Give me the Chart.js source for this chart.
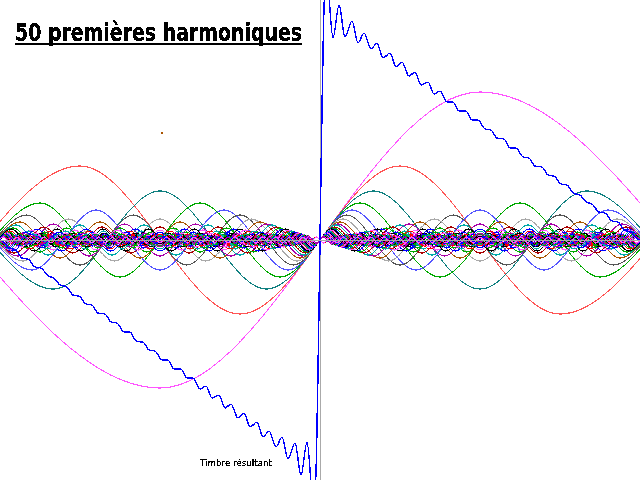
<!DOCTYPE html>
<html>
<head>
<meta charset="utf-8">
<title>50 premières harmoniques</title>
<script src="https://cdn.jsdelivr.net/npm/chart.js@4"></script>
<style>
    body { margin: 0; background: #fff; }
    canvas { display: block; filter: url(#crisp); }
</style>
</head>
<body>
<svg width="0" height="0" style="position:absolute">
    <filter id="crisp" x="0" y="0" width="100%" height="100%" color-interpolation-filters="sRGB">
        <feComponentTransfer><feFuncA type="discrete" tableValues="0 1 1"/></feComponentTransfer>
    </filter>
</svg>
<canvas id="chart" width="640" height="480"></canvas>
<script>
// Text in the picture
const titleText = "50 premières harmoniques";
const resultLabel = "Timbre résultant";

// Resultant wave: ripple tops and bottoms
const resultX = [0,3,9,16,22,28,35,41,48,54,60,67,73,79,86,92,98,105,111,117,124,130,136,143,149,155,162,168,174,181,187,193,200,206,212,219,225,231,238,244,250,257,263,269,276,282,288,295,301,307,314,
    326,333,339,345,352,358,364,371,377,383,390,396,402,409,415,421,428,434,440,447,453,459,466,472,478,485,491,497,504,510,516,523,529,535,542,548,554,561,567,573,580,586,592,599,605,612,618,624,631,637,640];
const resultY = [0,-1,-8,-10,-18,-19,-27,-28,-36,-38,-45,-47,-55,-56,-64,-65,-73,-74,-82,-83,-92,-92,-101,-102,-110,-111,-120,-120,-129,-129,-138,-138,-149,-146,-158,-155,-168,-164,-178,-173,-187,-182,-197,-191,-207,-197,-219,-203,-235,-202,-273,
    273,202,235,203,219,197,207,191,197,182,187,173,178,164,168,155,158,146,149,138,138,129,129,120,120,111,110,102,101,92,92,83,82,74,73,65,64,56,55,47,45,38,36,28,27,19,18,10,8,1,0];

// Stray dot above the left half
const strayX = [162];
const strayY = [107];

// Harmonic tops and bottoms, evenly spaced, one wave crest beyond each edge
const h1 = [148,-148,148,-148];
const h2 = [-74,74,-74,74,-74,74];
const h3 = [49,-49,49,-49,49,-49,49,-49];
const h4 = [-37,37,-37,37,-37,37,-37,37,-37,37];
const h5 = [30,-30,30,-30,30,-30,30,-30,30,-30,30,-30];
const h6 = [-25,25,-25,25,-25,25,-25,25,-25,25,-25,25,-25,25];
const h7 = [21,-21,21,-21,21,-21,21,-21,21,-21,21,-21,21,-21,21,-21];
const h8 = [-18,18,-18,18,-18,18,-18,18,-18,18,-18,18,-18,18,-18,18,-18,18];
const h9 = [16,-16,16,-16,16,-16,16,-16,16,-16,16,-16,16,-16,16,-16,16,-16,16,-16];
const h10 = [-15,15,-15,15,-15,15,-15,15,-15,15,-15,15,-15,15,-15,15,-15,15,-15,15,-15,15];
const h11 = [13,-13,13,-13,13,-13,13,-13,13,-13,13,-13,13,-13,13,-13,13,-13,13,-13,13,-13,13,-13];
const h12 = [-12,12,-12,12,-12,12,-12,12,-12,12,-12,12,-12,12,-12,12,-12,12,-12,12,-12,12,-12,12,-12,12];
const h13 = [11,-11,11,-11,11,-11,11,-11,11,-11,11,-11,11,-11,11,-11,11,-11,11,-11,11,-11,11,-11,11,-11,11,-11];
const h14 = [-11,11,-11,11,-11,11,-11,11,-11,11,-11,11,-11,11,-11,11,-11,11,-11,11,-11,11,-11,11,-11,11,-11,11,-11,11];
const h15 = [10,-10,10,-10,10,-10,10,-10,10,-10,10,-10,10,-10,10,-10,10,-10,10,-10,10,-10,10,-10,10,-10,10,-10,10,-10,10,-10];
const h16 = [-9,9,-9,9,-9,9,-9,9,-9,9,-9,9,-9,9,-9,9,-9,9,-9,9,-9,9,-9,9,-9,9,-9,9,-9,9,-9,9,-9,9];
const h17 = [9,-9,9,-9,9,-9,9,-9,9,-9,9,-9,9,-9,9,-9,9,-9,9,-9,9,-9,9,-9,9,-9,9,-9,9,-9,9,-9,9,-9,9,-9];
const h18 = [-8,8,-8,8,-8,8,-8,8,-8,8,-8,8,-8,8,-8,8,-8,8,-8,8,-8,8,-8,8,-8,8,-8,8,-8,8,-8,8,-8,8,-8,8,-8,8];
const h19 = [8,-8,8,-8,8,-8,8,-8,8,-8,8,-8,8,-8,8,-8,8,-8,8,-8,8,-8,8,-8,8,-8,8,-8,8,-8,8,-8,8,-8,8,-8,8,-8,8,-8];
const h20 = [-7,7,-7,7,-7,7,-7,7,-7,7,-7,7,-7,7,-7,7,-7,7,-7,7,-7,7,-7,7,-7,7,-7,7,-7,7,-7,7,-7,7,-7,7,-7,7,-7,7,-7,7];
const h21 = [7,-7,7,-7,7,-7,7,-7,7,-7,7,-7,7,-7,7,-7,7,-7,7,-7,7,-7,7,-7,7,-7,7,-7,7,-7,7,-7,7,-7,7,-7,7,-7,7,-7,7,-7,7,-7];
const h22 = [-7,7,-7,7,-7,7,-7,7,-7,7,-7,7,-7,7,-7,7,-7,7,-7,7,-7,7,-7,7,-7,7,-7,7,-7,7,-7,7,-7,7,-7,7,-7,7,-7,7,-7,7,-7,7,-7,7];
const h23 = [6,-6,6,-6,6,-6,6,-6,6,-6,6,-6,6,-6,6,-6,6,-6,6,-6,6,-6,6,-6,6,-6,6,-6,6,-6,6,-6,6,-6,6,-6,6,-6,6,-6,6,-6,6,-6,6,-6,6,-6];
const h24 = [-6,6,-6,6,-6,6,-6,6,-6,6,-6,6,-6,6,-6,6,-6,6,-6,6,-6,6,-6,6,-6,6,-6,6,-6,6,-6,6,-6,6,-6,6,-6,6,-6,6,-6,6,-6,6,-6,6,-6,6,-6,6];
const h25 = [6,-6,6,-6,6,-6,6,-6,6,-6,6,-6,6,-6,6,-6,6,-6,6,-6,6,-6,6,-6,6,-6,6,-6,6,-6,6,-6,6,-6,6,-6,6,-6,6,-6,6,-6,6,-6,6,-6,6,-6,6,-6,6,-6];
const h26 = [-6,6,-6,6,-6,6,-6,6,-6,6,-6,6,-6,6,-6,6,-6,6,-6,6,-6,6,-6,6,-6,6,-6,6,-6,6,-6,6,-6,6,-6,6,-6,6,-6,6,-6,6,-6,6,-6,6,-6,6,-6,6,-6,6,-6,6];
const h27 = [5,-5,5,-5,5,-5,5,-5,5,-5,5,-5,5,-5,5,-5,5,-5,5,-5,5,-5,5,-5,5,-5,5,-5,5,-5,5,-5,5,-5,5,-5,5,-5,5,-5,5,-5,5,-5,5,-5,5,-5,5,-5,5,-5,5,-5,5,-5];
const h28 = [-5,5,-5,5,-5,5,-5,5,-5,5,-5,5,-5,5,-5,5,-5,5,-5,5,-5,5,-5,5,-5,5,-5,5,-5,5,-5,5,-5,5,-5,5,-5,5,-5,5,-5,5,-5,5,-5,5,-5,5,-5,5,-5,5,-5,5,-5,5,-5,5];
const h29 = [5,-5,5,-5,5,-5,5,-5,5,-5,5,-5,5,-5,5,-5,5,-5,5,-5,5,-5,5,-5,5,-5,5,-5,5,-5,5,-5,5,-5,5,-5,5,-5,5,-5,5,-5,5,-5,5,-5,5,-5,5,-5,5,-5,5,-5,5,-5,5,-5,5,-5];
const h30 = [-5,5,-5,5,-5,5,-5,5,-5,5,-5,5,-5,5,-5,5,-5,5,-5,5,-5,5,-5,5,-5,5,-5,5,-5,5,-5,5,-5,5,-5,5,-5,5,-5,5,-5,5,-5,5,-5,5,-5,5,-5,5,-5,5,-5,5,-5,5,-5,5,-5,5,-5,5];
const h31 = [5,-5,5,-5,5,-5,5,-5,5,-5,5,-5,5,-5,5,-5,5,-5,5,-5,5,-5,5,-5,5,-5,5,-5,5,-5,5,-5,5,-5,5,-5,5,-5,5,-5,5,-5,5,-5,5,-5,5,-5,5,-5,5,-5,5,-5,5,-5,5,-5,5,-5,5,-5,5,-5];
const h32 = [-5,5,-5,5,-5,5,-5,5,-5,5,-5,5,-5,5,-5,5,-5,5,-5,5,-5,5,-5,5,-5,5,-5,5,-5,5,-5,5,-5,5,-5,5,-5,5,-5,5,-5,5,-5,5,-5,5,-5,5,-5,5,-5,5,-5,5,-5,5,-5,5,-5,5,-5,5,-5,5,-5,5];
const h33 = [4,-4,4,-4,4,-4,4,-4,4,-4,4,-4,4,-4,4,-4,4,-4,4,-4,4,-4,4,-4,4,-4,4,-4,4,-4,4,-4,4,-4,4,-4,4,-4,4,-4,4,-4,4,-4,4,-4,4,-4,4,-4,4,-4,4,-4,4,-4,4,-4,4,-4,4,-4,4,-4,4,-4,4,-4];
const h34 = [-4,4,-4,4,-4,4,-4,4,-4,4,-4,4,-4,4,-4,4,-4,4,-4,4,-4,4,-4,4,-4,4,-4,4,-4,4,-4,4,-4,4,-4,4,-4,4,-4,4,-4,4,-4,4,-4,4,-4,4,-4,4,-4,4,-4,4,-4,4,-4,4,-4,4,-4,4,-4,4,-4,4,-4,4,-4,4];
const h35 = [4,-4,4,-4,4,-4,4,-4,4,-4,4,-4,4,-4,4,-4,4,-4,4,-4,4,-4,4,-4,4,-4,4,-4,4,-4,4,-4,4,-4,4,-4,4,-4,4,-4,4,-4,4,-4,4,-4,4,-4,4,-4,4,-4,4,-4,4,-4,4,-4,4,-4,4,-4,4,-4,4,-4,4,-4,4,-4,4,-4];
const h36 = [-4,4,-4,4,-4,4,-4,4,-4,4,-4,4,-4,4,-4,4,-4,4,-4,4,-4,4,-4,4,-4,4,-4,4,-4,4,-4,4,-4,4,-4,4,-4,4,-4,4,-4,4,-4,4,-4,4,-4,4,-4,4,-4,4,-4,4,-4,4,-4,4,-4,4,-4,4,-4,4,-4,4,-4,4,-4,4,-4,4,-4,4];
const h37 = [4,-4,4,-4,4,-4,4,-4,4,-4,4,-4,4,-4,4,-4,4,-4,4,-4,4,-4,4,-4,4,-4,4,-4,4,-4,4,-4,4,-4,4,-4,4,-4,4,-4,4,-4,4,-4,4,-4,4,-4,4,-4,4,-4,4,-4,4,-4,4,-4,4,-4,4,-4,4,-4,4,-4,4,-4,4,-4,4,-4,4,-4,4,-4];
const h38 = [-4,4,-4,4,-4,4,-4,4,-4,4,-4,4,-4,4,-4,4,-4,4,-4,4,-4,4,-4,4,-4,4,-4,4,-4,4,-4,4,-4,4,-4,4,-4,4,-4,4,-4,4,-4,4,-4,4,-4,4,-4,4,-4,4,-4,4,-4,4,-4,4,-4,4,-4,4,-4,4,-4,4,-4,4,-4,4,-4,4,-4,4,-4,4,-4,4];
const h39 = [4,-4,4,-4,4,-4,4,-4,4,-4,4,-4,4,-4,4,-4,4,-4,4,-4,4,-4,4,-4,4,-4,4,-4,4,-4,4,-4,4,-4,4,-4,4,-4,4,-4,4,-4,4,-4,4,-4,4,-4,4,-4,4,-4,4,-4,4,-4,4,-4,4,-4,4,-4,4,-4,4,-4,4,-4,4,-4,4,-4,4,-4,4,-4,4,-4,4,-4];
const h40 = [-4,4,-4,4,-4,4,-4,4,-4,4,-4,4,-4,4,-4,4,-4,4,-4,4,-4,4,-4,4,-4,4,-4,4,-4,4,-4,4,-4,4,-4,4,-4,4,-4,4,-4,4,-4,4,-4,4,-4,4,-4,4,-4,4,-4,4,-4,4,-4,4,-4,4,-4,4,-4,4,-4,4,-4,4,-4,4,-4,4,-4,4,-4,4,-4,4,-4,4,-4,4];
const h41 = [4,-4,4,-4,4,-4,4,-4,4,-4,4,-4,4,-4,4,-4,4,-4,4,-4,4,-4,4,-4,4,-4,4,-4,4,-4,4,-4,4,-4,4,-4,4,-4,4,-4,4,-4,4,-4,4,-4,4,-4,4,-4,4,-4,4,-4,4,-4,4,-4,4,-4,4,-4,4,-4,4,-4,4,-4,4,-4,4,-4,4,-4,4,-4,4,-4,4,-4,4,-4,4,-4];
const h42 = [-4,4,-4,4,-4,4,-4,4,-4,4,-4,4,-4,4,-4,4,-4,4,-4,4,-4,4,-4,4,-4,4,-4,4,-4,4,-4,4,-4,4,-4,4,-4,4,-4,4,-4,4,-4,4,-4,4,-4,4,-4,4,-4,4,-4,4,-4,4,-4,4,-4,4,-4,4,-4,4,-4,4,-4,4,-4,4,-4,4,-4,4,-4,4,-4,4,-4,4,-4,4,-4,4,-4,4];
const h43 = [3,-3,3,-3,3,-3,3,-3,3,-3,3,-3,3,-3,3,-3,3,-3,3,-3,3,-3,3,-3,3,-3,3,-3,3,-3,3,-3,3,-3,3,-3,3,-3,3,-3,3,-3,3,-3,3,-3,3,-3,3,-3,3,-3,3,-3,3,-3,3,-3,3,-3,3,-3,3,-3,3,-3,3,-3,3,-3,3,-3,3,-3,3,-3,3,-3,3,-3,3,-3,3,-3,3,-3,3,-3];
const h44 = [-3,3,-3,3,-3,3,-3,3,-3,3,-3,3,-3,3,-3,3,-3,3,-3,3,-3,3,-3,3,-3,3,-3,3,-3,3,-3,3,-3,3,-3,3,-3,3,-3,3,-3,3,-3,3,-3,3,-3,3,-3,3,-3,3,-3,3,-3,3,-3,3,-3,3,-3,3,-3,3,-3,3,-3,3,-3,3,-3,3,-3,3,-3,3,-3,3,-3,3,-3,3,-3,3,-3,3,-3,3];
const h45 = [3,-3,3,-3,3,-3,3,-3,3,-3,3,-3,3,-3,3,-3,3,-3,3,-3,3,-3,3,-3,3,-3,3,-3,3,-3,3,-3,3,-3,3,-3,3,-3,3,-3,3,-3,3,-3,3,-3,3,-3,3,-3,3,-3,3,-3,3,-3,3,-3,3,-3,3,-3,3,-3,3,-3,3,-3,3,-3,3,-3,3,-3,3,-3,3,-3,3,-3,3,-3,3,-3,3,-3,3,-3,3,-3];
const h46 = [-3,3,-3,3,-3,3,-3,3,-3,3,-3,3,-3,3,-3,3,-3,3,-3,3,-3,3,-3,3,-3,3,-3,3,-3,3,-3,3,-3,3,-3,3,-3,3,-3,3,-3,3,-3,3,-3,3,-3,3,-3,3,-3,3,-3,3,-3,3,-3,3,-3,3,-3,3,-3,3,-3,3,-3,3,-3,3,-3,3,-3,3,-3,3,-3,3,-3,3,-3,3,-3,3,-3,3,-3,3,-3,3,-3,3];
const h47 = [3,-3,3,-3,3,-3,3,-3,3,-3,3,-3,3,-3,3,-3,3,-3,3,-3,3,-3,3,-3,3,-3,3,-3,3,-3,3,-3,3,-3,3,-3,3,-3,3,-3,3,-3,3,-3,3,-3,3,-3,3,-3,3,-3,3,-3,3,-3,3,-3,3,-3,3,-3,3,-3,3,-3,3,-3,3,-3,3,-3,3,-3,3,-3,3,-3,3,-3,3,-3,3,-3,3,-3,3,-3,3,-3,3,-3,3,-3];
const h48 = [-3,3,-3,3,-3,3,-3,3,-3,3,-3,3,-3,3,-3,3,-3,3,-3,3,-3,3,-3,3,-3,3,-3,3,-3,3,-3,3,-3,3,-3,3,-3,3,-3,3,-3,3,-3,3,-3,3,-3,3,-3,3,-3,3,-3,3,-3,3,-3,3,-3,3,-3,3,-3,3,-3,3,-3,3,-3,3,-3,3,-3,3,-3,3,-3,3,-3,3,-3,3,-3,3,-3,3,-3,3,-3,3,-3,3,-3,3];
const h49 = [3,-3,3,-3,3,-3,3,-3,3,-3,3,-3,3,-3,3,-3,3,-3,3,-3,3,-3,3,-3,3,-3,3,-3,3,-3,3,-3,3,-3,3,-3,3,-3,3,-3,3,-3,3,-3,3,-3,3,-3,3,-3,3,-3,3,-3,3,-3,3,-3,3,-3,3,-3,3,-3,3,-3,3,-3,3,-3,3,-3,3,-3,3,-3,3,-3,3,-3,3,-3,3,-3,3,-3,3,-3,3,-3,3,-3,3,-3,3,-3];
const h50 = [-3,3,-3,3,-3,3,-3,3,-3,3,-3,3,-3,3,-3,3,-3,3,-3,3,-3,3,-3,3,-3,3,-3,3,-3,3,-3,3,-3,3,-3,3,-3,3,-3,3,-3,3,-3,3,-3,3,-3,3,-3,3,-3,3,-3,3,-3,3,-3,3,-3,3,-3,3,-3,3,-3,3,-3,3,-3,3,-3,3,-3,3,-3,3,-3,3,-3,3,-3,3,-3,3,-3,3,-3,3,-3,3,-3,3,-3,3,-3,3];

const harmonics = [h1,h2,h3,h4,h5,h6,h7,h8,h9,h10,h11,h12,h13,h14,h15,h16,h17,h18,h19,h20,h21,h22,h23,h24,h25,h26,h27,h28,h29,h30,h31,h32,h33,h34,h35,h36,h37,h38,h39,h40,h41,h42,h43,h44,h45,h46,h47,h48,h49,h50];

// Colours of the first harmonics, then the brighter ones that repeat in the dense band
const firstColors = ["#ff55ff","#ff5555","#108080","#00aa00","#5555ff","#555555","#aaaaaa","#aa5500","#aa00aa","#00aaaa","#aa0000","#00aa00","#0000ff","#000000"];
const bandColors = ["#ff55ff","#ff0000","#00aaaa","#00aa00","#0000ff","#000000","#aa00aa"];

function harmonicColor(i) {
    return i < firstColors.length ? firstColors[i] : bandColors[i % bandColors.length];
}

function toPoints(xs, ys) {
    return ys.map((y, i) => ({ x: xs[i], y: y }));
}

// One dataset per harmonic, crests evenly spaced across the width
function harmonicDataset(values, i) {
    const step = 640 / (values.length - 2);
    return {
        label: "Harmonique " + (i + 1),
        data: values.map((y, k) => ({ x: (k - 0.5) * step, y: y })),
        borderColor: harmonicColor(i),
        borderWidth: 1,
        pointRadius: 0,
        cubicInterpolationMode: "monotone",
    };
}

// The reference has hard pixel lines: drop the antialiasing of each dataset on its own,
// so that overlapping lines keep their colour instead of going muddy
let layer = null;
const hardLines = {
    id: "hardLines",
    beforeDatasetsDraw(chart) {
        layer = document.createElement("canvas");
        layer.width = chart.canvas.width;
        layer.height = chart.canvas.height;
        layer.getContext("2d").drawImage(chart.canvas, 0, 0);
        chart.ctx.clearRect(0, 0, layer.width, layer.height);
    },
    afterDatasetDraw(chart) {
        const c = chart.ctx;
        const img = c.getImageData(0, 0, layer.width, layer.height);
        for (let p = 3; p < img.data.length; p += 4) {
            img.data[p] = img.data[p] >= 95 ? 255 : 0;
        }
        c.putImageData(img, 0, 0);
        layer.getContext("2d").drawImage(chart.canvas, 0, 0);
        c.clearRect(0, 0, layer.width, layer.height);
    },
    afterDatasetsDraw(chart) {
        chart.ctx.drawImage(layer, 0, 0);
    },
};

// Title, underline and small label
const textPlugin = {
    id: "texts",
    afterDraw(chart) {
        const c = chart.ctx;
        c.save();
        c.fillStyle = "#000";
        c.font = 'bold 25px "DejaVu Sans"';
        c.textBaseline = "alphabetic";
        c.fillText(titleText, 15, 41, 287);
        c.fillRect(15, 43, 287, 2);
        c.font = '9px "DejaVu Sans"';
        c.fillText(resultLabel, 200, 466, 72);
        c.restore();
    },
};

const datasets = [
    {
        label: resultLabel,
        data: toPoints(resultX, resultY),
        borderColor: "#0000ff",
        borderWidth: 1.2,
        pointRadius: 0,
        cubicInterpolationMode: "monotone",
    },
    {
        label: "Point",
        data: toPoints(strayX, strayY),
        showLine: false,
        pointRadius: 1,
        pointBackgroundColor: "#aa5500",
        pointBorderWidth: 0,
    },
];
harmonics.map(harmonicDataset).reverse().forEach((d) => datasets.push(d));

new Chart(document.getElementById("chart"), {
    type: "line",
    data: { datasets: datasets },
    plugins: [hardLines, textPlugin],
    options: {
        responsive: false,
        animation: false,
        layout: { padding: 0, autoPadding: false },
        plugins: { legend: { display: false }, tooltip: { enabled: false }, title: { display: false } },
        scales: {
            x: {
                type: "linear",
                min: 0,
                max: 640,
                ticks: { display: false, stepSize: 320 },
                border: { display: false },
                grid: {
                    drawTicks: false,
                    color: (ctx) => (ctx.tick.value === 320 ? "#aaaaaa" : "transparent"),
                },
            },
            y: {
                min: -240,
                max: 240,
                ticks: { display: false, stepSize: 240 },
                border: { display: false },
                grid: {
                    z: 1,
                    drawTicks: false,
                    color: (ctx) => (ctx.tick.value === 0 ? "#aaaaaa" : "transparent"),
                },
            },
        },
    },
});
</script>
</body>
</html>
